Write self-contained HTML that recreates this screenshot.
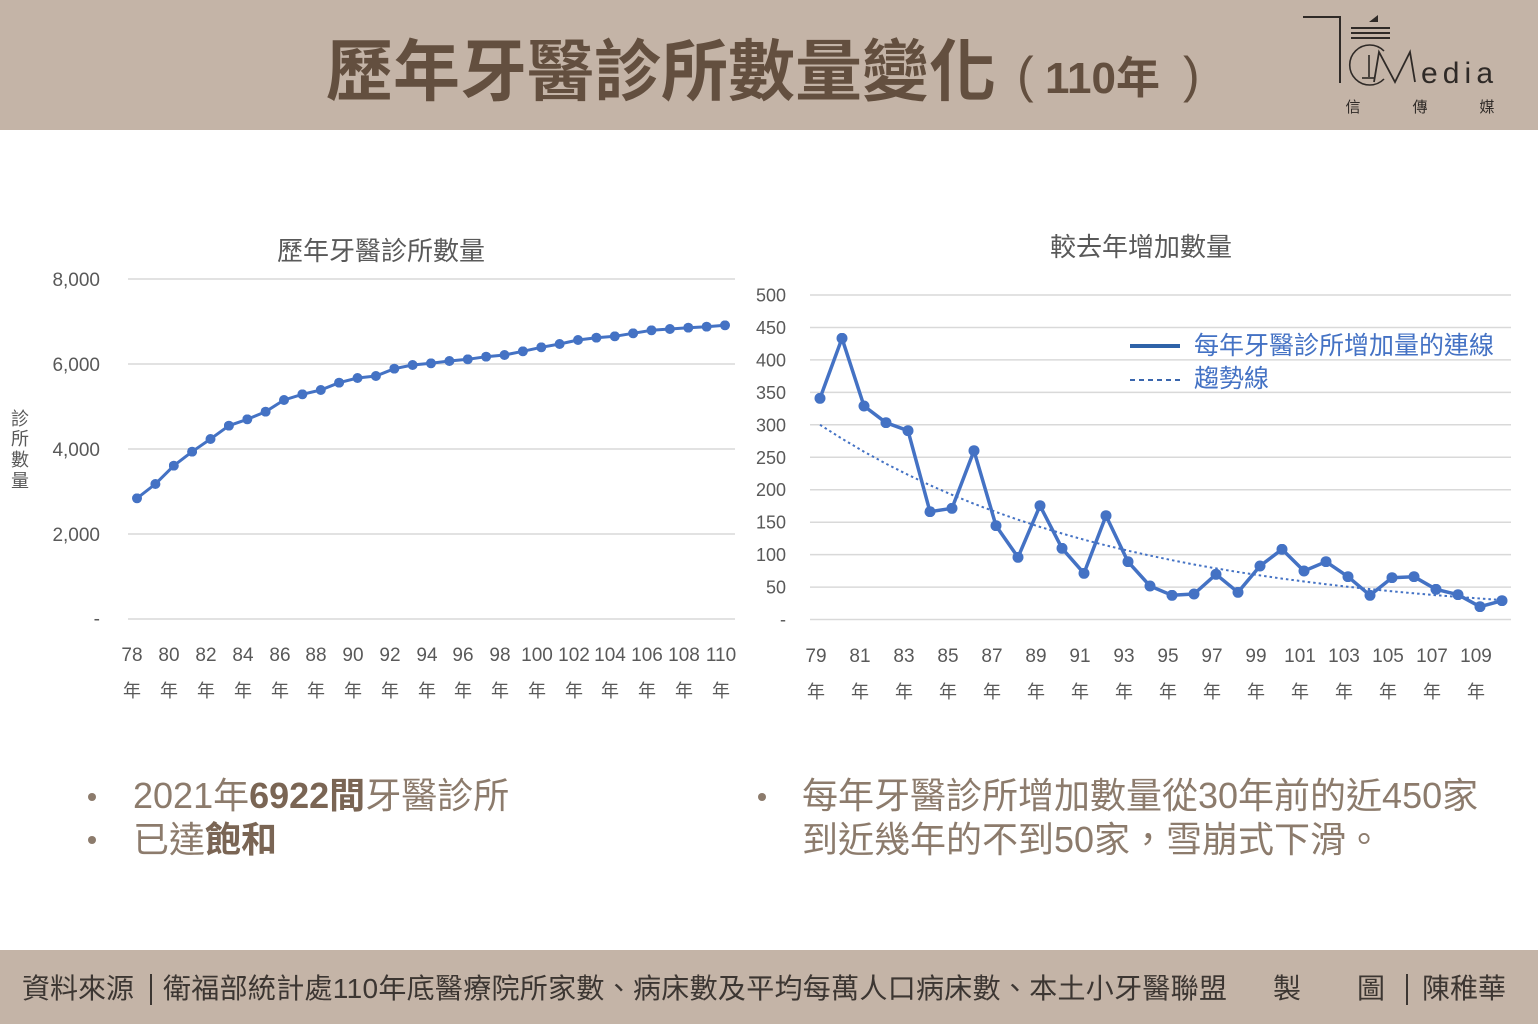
<!DOCTYPE html>
<html>
<head>
<meta charset="utf-8">
<style>
html,body{margin:0;padding:0;background:#ffffff;}
svg{display:block;}
</style>
</head>
<body>
<svg width="1538" height="1024" viewBox="0 0 1538 1024" xmlns="http://www.w3.org/2000/svg" font-family="'Liberation Sans','Noto Sans CJK TC',sans-serif">
<defs>
<marker id="dl" viewBox="0 0 10 10" refX="5" refY="5" markerWidth="10" markerHeight="10" markerUnits="userSpaceOnUse"><circle cx="5" cy="5" r="5" fill="#4472c4"/></marker>
<marker id="dr" viewBox="0 0 10 10" refX="5" refY="5" markerWidth="11" markerHeight="11" markerUnits="userSpaceOnUse"><circle cx="5" cy="5" r="5" fill="#4472c4"/></marker>
</defs>
<rect x="0" y="0" width="1538" height="1024" fill="#ffffff"/>
<!-- header -->
<rect x="0" y="0" width="1538" height="130" fill="#c4b4a7"/>
<text x="326" y="95" font-size="67" font-weight="bold" fill="#634f3f">歷年牙醫診所數量變化</text>
<text x="1017" y="92" font-size="50" fill="#634f3f">(</text>
<text x="1045" y="93" font-size="44" font-weight="bold" fill="#634f3f">110年</text>
<text x="1183" y="92" font-size="50" fill="#634f3f">)</text>
<!-- logo -->
<g stroke="#2f2a27" fill="none" stroke-width="2">
<polyline points="1303,17 1340,17 1340,83"/>
<line x1="1351" y1="28" x2="1390" y2="28"/>
<line x1="1351" y1="33" x2="1390" y2="33"/>
<line x1="1351" y1="38" x2="1390" y2="38"/>
<path d="M1384 51 A20 20 0 1 0 1384 79" stroke-width="1.6"/>
<line x1="1369" y1="55" x2="1369" y2="77" stroke-width="1.6"/>
<line x1="1362" y1="78" x2="1374" y2="78" stroke-width="1.6"/>
<polyline points="1374,82 1379,52 1395,82 1410,52 1415,82" stroke-width="1.8"/>
</g>
<polygon points="1369,22 1378,15 1378,22" fill="#2f2a27"/>
<text x="1421" y="83" font-size="30" fill="#2f2a27" textLength="72" lengthAdjust="spacing">edia</text>
<g font-size="15" fill="#2f2a27" text-anchor="middle">
<text x="1353" y="112">信</text>
<text x="1420" y="112">傳</text>
<text x="1487" y="112">媒</text>
</g>

<!-- LEFT CHART -->
<text x="381" y="260" font-size="26" fill="#595959" text-anchor="middle">歷年牙醫診所數量</text>
<g stroke="#d9d9d9" stroke-width="1.5">
<line x1="128" y1="279" x2="735" y2="279"/>
<line x1="128" y1="364" x2="735" y2="364"/>
<line x1="128" y1="449" x2="735" y2="449"/>
<line x1="128" y1="534" x2="735" y2="534"/>
<line x1="128" y1="619" x2="735" y2="619"/>
</g>
<g font-size="19" fill="#595959" text-anchor="end">
<text x="100" y="286">8,000</text>
<text x="100" y="371">6,000</text>
<text x="100" y="456">4,000</text>
<text x="100" y="541">2,000</text>
<text x="100" y="625">-</text>
</g>
<g font-size="18" fill="#595959" text-anchor="middle">
<text x="20" y="425">診</text>
<text x="20" y="445">所</text>
<text x="20" y="466">數</text>
<text x="20" y="487">量</text>
</g>
<g font-size="19" fill="#595959" text-anchor="middle">
<text x="132" y="661">78</text><text x="169" y="661">80</text><text x="206" y="661">82</text><text x="243" y="661">84</text>
<text x="280" y="661">86</text><text x="316" y="661">88</text><text x="353" y="661">90</text><text x="390" y="661">92</text>
<text x="427" y="661">94</text><text x="463" y="661">96</text><text x="500" y="661">98</text><text x="537" y="661">100</text>
<text x="574" y="661">102</text><text x="610" y="661">104</text><text x="647" y="661">106</text><text x="684" y="661">108</text>
<text x="721" y="661">110</text>
</g>
<g font-size="18" fill="#595959" text-anchor="middle">
<text x="132" y="697">年</text><text x="169" y="697">年</text><text x="206" y="697">年</text><text x="243" y="697">年</text>
<text x="280" y="697">年</text><text x="316" y="697">年</text><text x="353" y="697">年</text><text x="390" y="697">年</text>
<text x="427" y="697">年</text><text x="463" y="697">年</text><text x="500" y="697">年</text><text x="537" y="697">年</text>
<text x="574" y="697">年</text><text x="610" y="697">年</text><text x="647" y="697">年</text><text x="684" y="697">年</text>
<text x="721" y="697">年</text>
</g>
<polyline fill="none" stroke="#4472c4" stroke-width="3" stroke-linejoin="round" marker-start="url(#dl)" marker-mid="url(#dl)" marker-end="url(#dl)"
points="137,498.3 155.4,484 173.8,465.7 192.1,451.7 210.5,439 228.9,425.7 247.3,419.3 265.6,411.7 284,400 302.4,394.3 320.8,390 339.1,382.7 357.5,378 375.9,376 394.3,368.7 412.6,365 431,363.3 449.4,361 467.8,359.3 486.1,356.7 504.5,355 522.9,351.3 541.3,347.3 559.6,344 578,340 596.4,337.7 614.8,336.3 633.1,333.3 651.5,330.3 669.9,329 688.3,327.7 706.6,326.7 725,325.3"/>

<!-- RIGHT CHART -->
<text x="1141" y="256" font-size="26" fill="#595959" text-anchor="middle">較去年增加數量</text>
<g stroke="#d9d9d9" stroke-width="1.5">
<line x1="810" y1="295" x2="1511" y2="295"/>
<line x1="810" y1="327.5" x2="1511" y2="327.5"/>
<line x1="810" y1="359.9" x2="1511" y2="359.9"/>
<line x1="810" y1="392.4" x2="1511" y2="392.4"/>
<line x1="810" y1="424.8" x2="1511" y2="424.8"/>
<line x1="810" y1="457.3" x2="1511" y2="457.3"/>
<line x1="810" y1="489.7" x2="1511" y2="489.7"/>
<line x1="810" y1="522.2" x2="1511" y2="522.2"/>
<line x1="810" y1="554.6" x2="1511" y2="554.6"/>
<line x1="810" y1="587.1" x2="1511" y2="587.1"/>
<line x1="810" y1="619.5" x2="1511" y2="619.5"/>
</g>
<g font-size="18" fill="#595959" text-anchor="end">
<text x="786" y="301.5">500</text>
<text x="786" y="334">450</text>
<text x="786" y="366.4">400</text>
<text x="786" y="398.9">350</text>
<text x="786" y="431.3">300</text>
<text x="786" y="463.8">250</text>
<text x="786" y="496.2">200</text>
<text x="786" y="528.7">150</text>
<text x="786" y="561.1">100</text>
<text x="786" y="593.6">50</text>
<text x="786" y="625.5">-</text>
</g>
<g font-size="19" fill="#595959" text-anchor="middle">
<text x="816" y="662">79</text><text x="860" y="662">81</text><text x="904" y="662">83</text><text x="948" y="662">85</text>
<text x="992" y="662">87</text><text x="1036" y="662">89</text><text x="1080" y="662">91</text><text x="1124" y="662">93</text>
<text x="1168" y="662">95</text><text x="1212" y="662">97</text><text x="1256" y="662">99</text><text x="1300" y="662">101</text>
<text x="1344" y="662">103</text><text x="1388" y="662">105</text><text x="1432" y="662">107</text><text x="1476" y="662">109</text>
</g>
<g font-size="18" fill="#595959" text-anchor="middle">
<text x="816" y="698">年</text><text x="860" y="698">年</text><text x="904" y="698">年</text><text x="948" y="698">年</text>
<text x="992" y="698">年</text><text x="1036" y="698">年</text><text x="1080" y="698">年</text><text x="1124" y="698">年</text>
<text x="1168" y="698">年</text><text x="1212" y="698">年</text><text x="1256" y="698">年</text><text x="1300" y="698">年</text>
<text x="1344" y="698">年</text><text x="1388" y="698">年</text><text x="1432" y="698">年</text><text x="1476" y="698">年</text>
</g>
<polyline fill="none" stroke="#4472c4" stroke-width="2" stroke-dasharray="2.5 3"
points="820,424.8 842,438.7 864,451.7 886,463.7 908,474.8 930,485.2 952,494.8 974,503.8 996,512 1018,519.7 1040,526.9 1062,533.5 1084,539.7 1106,545.4 1128,550.7 1150,555.6 1172,560.2 1194,564.5 1216,568.4 1238,572 1260,575.4 1282,578.6 1304,581.5 1326,584.2 1348,586.8 1370,589.1 1392,591.3 1414,593.3 1436,595.2 1458,596.9 1480,598.5 1502,600"/>
<polyline fill="none" stroke="#4472c4" stroke-width="3.5" stroke-linejoin="round" marker-start="url(#dr)" marker-mid="url(#dr)" marker-end="url(#dr)"
points="820,398.3 842,338.3 864,406 886,422.7 908,430.7 930,511.7 952,508.3 974,450.7 996,525.7 1018,557.3 1040,505.7 1062,548.3 1084,573.3 1106,515.7 1128,561.7 1150,586 1172,595.3 1194,594 1216,574.3 1238,592.3 1260,566 1282,549.3 1304,571 1326,561.7 1348,576.7 1370,595.3 1392,577.7 1414,576.7 1436,589.3 1458,594.7 1480,606.7 1502,600.7"/>
<!-- legend -->
<line x1="1130" y1="346" x2="1180" y2="346" stroke="#2e63a8" stroke-width="4"/>
<line x1="1130" y1="380" x2="1180" y2="380" stroke="#3a66ad" stroke-width="2" stroke-dasharray="5 4"/>
<text x="1194" y="354" font-size="25" fill="#4472c4">每年牙醫診所增加量的連線</text>
<text x="1194" y="387" font-size="25" fill="#4472c4">趨勢線</text>

<!-- bullets -->
<circle cx="92" cy="797" r="4" fill="#8c7b6c"/>
<circle cx="92" cy="840" r="4" fill="#8c7b6c"/>
<circle cx="762" cy="797" r="4" fill="#8c7b6c"/>
<text x="133" y="808" font-size="36" fill="#8c7b6c">2021年<tspan font-weight="bold" fill="#7a6554">6922間</tspan>牙醫診所</text>
<text x="133" y="852" font-size="36" fill="#8c7b6c">已達<tspan font-weight="bold" fill="#7a6554">飽和</tspan></text>
<text x="802" y="808" font-size="36" fill="#8c7b6c">每年牙醫診所增加數量從30年前的近450家</text>
<text x="802" y="852" font-size="36" fill="#8c7b6c">到近幾年的不到50家，雪崩式下滑。</text>

<!-- footer -->
<rect x="0" y="950" width="1538" height="74" fill="#c4b4a7"/>
<g font-size="28" fill="#3c3632">
<text x="22" y="998">資料來源</text>
<text x="163" y="998" textLength="1064" lengthAdjust="spacing">衛福部統計處110年底醫療院所家數、病床數及平均每萬人口病床數、本土小牙醫聯盟</text>
<text x="1273" y="998">製</text>
<text x="1357" y="998">圖</text>
<text x="1422" y="998">陳稚華</text>
</g>
<line x1="151" y1="974" x2="151" y2="1005" stroke="#3c3632" stroke-width="2"/>
<line x1="1407" y1="974" x2="1407" y2="1005" stroke="#3c3632" stroke-width="2"/>
</svg>
</body>
</html>
